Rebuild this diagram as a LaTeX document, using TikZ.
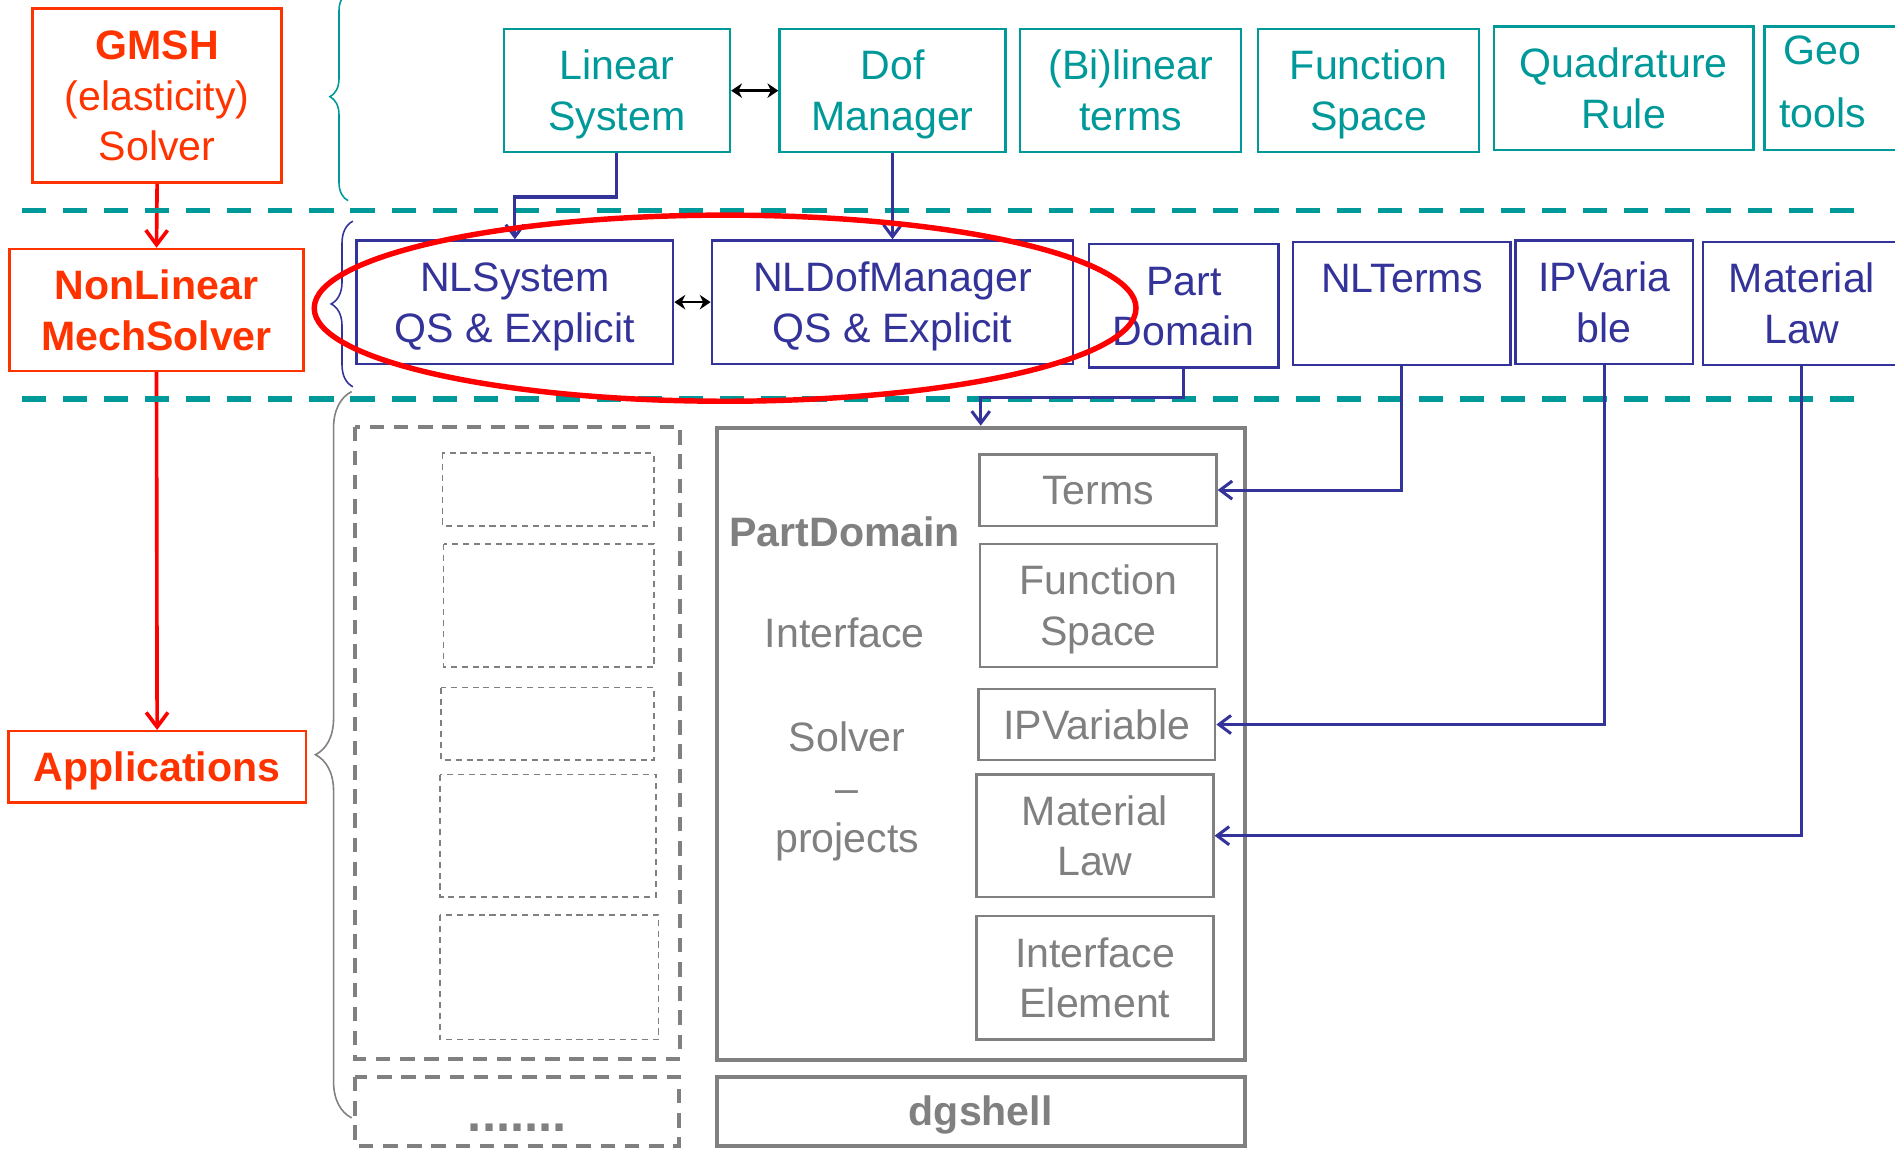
\documentclass[tikz,border=0pt]{standalone}
\usepackage{fontspec}
\setmainfont{Liberation Sans}
\usetikzlibrary{arrows.meta,decorations.pathreplacing}

\definecolor{solverred}{HTML}{FF3300}
\definecolor{gmshteal}{HTML}{009999}
\definecolor{nlblue}{HTML}{333399}
\definecolor{pdgray}{HTML}{808080}
\newcommand{\boxstrut}{\rule[-8pt]{0pt}{40.3pt}}

\begin{document}
\begin{tikzpicture}[x=1pt, y=-1pt,
    txt/.style={font=\fontsize{34}{42}\selectfont, align=center, inner sep=0pt},
    redbox/.style={txt, draw=solverred, text=solverred, line width=2pt},
    tealbox/.style={txt, draw=gmshteal, text=gmshteal, line width=2pt, minimum height=102pt},
    bluebox/.style={txt, draw=nlblue, text=nlblue, line width=2pt, minimum height=102pt},
    graybox/.style={txt, draw=pdgray, text=pdgray, line width=2pt, minimum width=196pt},
    dashbig/.style={draw=pdgray, line width=3.3pt, dash pattern=on 12pt off 8pt},
    dashsmall/.style={draw=pdgray, line width=1.3pt, dash pattern=on 5pt off 4pt},
    redarrow/.style={draw=red, line width=3pt, -{Straight Barb[length=12pt,width=18pt]}},
    bluearrow/.style={draw=nlblue, line width=2.5pt, -{Straight Barb[length=10pt,width=15pt]}},
    dblarrow/.style={black, line width=2pt, {Stealth[length=9pt,width=12pt]}-{Stealth[length=9pt,width=12pt]}},
    sepline/.style={gmshteal, line width=4.5pt, dash pattern=on 20pt off 14pt},
    bracestyle/.style={line width=1.3pt, decorate, decoration={brace, amplitude=#1}},
  ]
  \useasboundingbox[fill=white] (0,0) rectangle (1568,950);

  % Solver layers (left column):
  \node[redbox, minimum width=206pt, minimum height=144pt] (gmsh) at (130,79)
    {\boxstrut\textbf{GMSH}\\(elasticity)\\Solver\boxstrut};
  \node[redbox, minimum width=243pt, minimum height=101pt] (nlmech) at (129.5,256.5)
    {\boxstrut\textbf{NonLinear}\\\textbf{MechSolver}\boxstrut};
  \node[redbox, minimum width=246pt, minimum height=59pt] (apps) at (130,634.5)
    {\boxstrut\textbf{Applications}};
  \draw[redarrow] (gmsh.south) -- (nlmech.north);
  \draw[redarrow] (nlmech.south) -- (apps.north);

  % Layer separators and braces:
  \draw[sepline] (18,174) -- (1535,174);
  \draw[sepline] (18,330) -- (1535,330);
  \draw[gmshteal, bracestyle=15pt] (288,166) -- (288,-6);
  \draw[nlblue, bracestyle=18pt] (292,320) -- (292,183);
  \draw[pdgray, bracestyle=30pt] (291,925) -- (291,324);

  % GMSH solver classes:
  \node[tealbox, minimum width=187pt] (linsys) at (510.5,75) {\boxstrut Linear\\System\boxstrut};
  \node[tealbox, minimum width=187pt] (dofman) at (738.5,75) {\boxstrut Dof\\Manager\boxstrut};
  \node[tealbox, minimum width=183pt] (bilin) at (935.5,75) {\boxstrut(Bi)linear\\terms\boxstrut};
  \node[tealbox, minimum width=183pt] (funcsp) at (1132.5,75) {\boxstrut Function\\Space\boxstrut};
  \node[tealbox, minimum width=215pt] (quadr) at (1343.5,73) {\boxstrut Quadrature\\Rule\boxstrut};
  \node[tealbox, minimum width=140pt] (geo) at (1530,73) {};
  \node[txt, text=gmshteal] (geotxt) at (1508,68) {Geo\\[10pt]tools};
  \draw[dblarrow] (linsys.east) -- (dofman.west);

  % NonLinear solver classes:
  \node[bluebox, minimum width=262pt] (nlsys) at (426,250) {\boxstrut NLSystem\\QS \& Explicit\boxstrut};
  \node[bluebox, minimum width=299pt] (nldof) at (738.5,250) {\boxstrut NLDofManager\\QS \& Explicit\boxstrut};
  \node[bluebox, minimum width=157pt] (partdom) at (979.5,253) {\boxstrut Part\\Domain\boxstrut};
  \node[bluebox, minimum width=180pt] (nlterms) at (1160,251) {\boxstrut NLTerms\\\boxstrut};
  \node[bluebox, minimum width=147pt] (ipvar) at (1327.5,250) {\boxstrut IPVaria\\ble\boxstrut};
  \node[bluebox, minimum width=164pt] (matlaw) at (1491,251) {\boxstrut Material\\Law\boxstrut};
  \draw[dblarrow] (nlsys.east) -- (nldof.west);
  \draw[bluearrow] (linsys.south) -- ++(0,36) -| (nlsys.north);
  \draw[bluearrow] (dofman.south) -- (nldof.north);

  % Applications (projects):
  \draw[dashbig] (294,353) rectangle (563,876);
  \draw[dashbig] (294,891) rectangle (562,948);
  \draw[dashsmall] (366,375) rectangle (541,435);
  \draw[dashsmall] (367,450) rectangle (541,552);
  \draw[dashsmall] (365,569) rectangle (541,629);
  \draw[dashsmall] (364,641) rectangle (543,742);
  \draw[dashsmall] (364,757) rectangle (545,860);
  \node[txt, text=pdgray, font=\fontsize{42}{42}\selectfont\bfseries, anchor=base] (dots) at (428,936) {.......};

  \node[draw=pdgray, line width=3.5pt, minimum width=437pt, minimum height=523pt] (pdbox) at (811.5,615.5) {};
  \node[txt, draw=pdgray, text=pdgray, line width=3.5pt, minimum width=437pt, minimum height=57pt] (dgshell) at (811.5,919.5) {\boxstrut\textbf{dgshell}};
  \node[txt, text=pdgray] (pdname) at (699,440) {\boxstrut\textbf{PartDomain}};
  \node[txt, text=pdgray] (interf) at (699,524) {\boxstrut Interface};
  \node[txt, text=pdgray] (solvproj) at (701,651.5) {\boxstrut Solver\\--\\projects\boxstrut};
  \node[graybox, minimum height=59pt] (terms) at (908.5,405.5) {\boxstrut Terms};
  \node[graybox, minimum height=102pt] (fspace) at (909,501) {\boxstrut Function\\Space\boxstrut};
  \node[graybox, minimum height=59pt] (ipvar2) at (907.5,599.5) {\boxstrut IPVariable};
  \node[graybox, minimum height=101pt] (matlaw2) at (906,691.5) {\boxstrut Material\\Law\boxstrut};
  \node[graybox, minimum height=102pt] (ielem) at (906,809) {\boxstrut Interface\\Element\boxstrut};

  \draw[bluearrow] (partdom.south) -- ++(0,24) -| (pdbox.north);
  \draw[bluearrow] (nlterms.south) |- (terms.east);
  \draw[bluearrow] (ipvar.south) |- (ipvar2.east);
  \draw[bluearrow] (matlaw.south) |- (matlaw2.east);

  % Highlight:
  \draw[red, line width=4.5pt] (600,255) ellipse [x radius=340pt, y radius=77pt];
\end{tikzpicture}
\end{document}
